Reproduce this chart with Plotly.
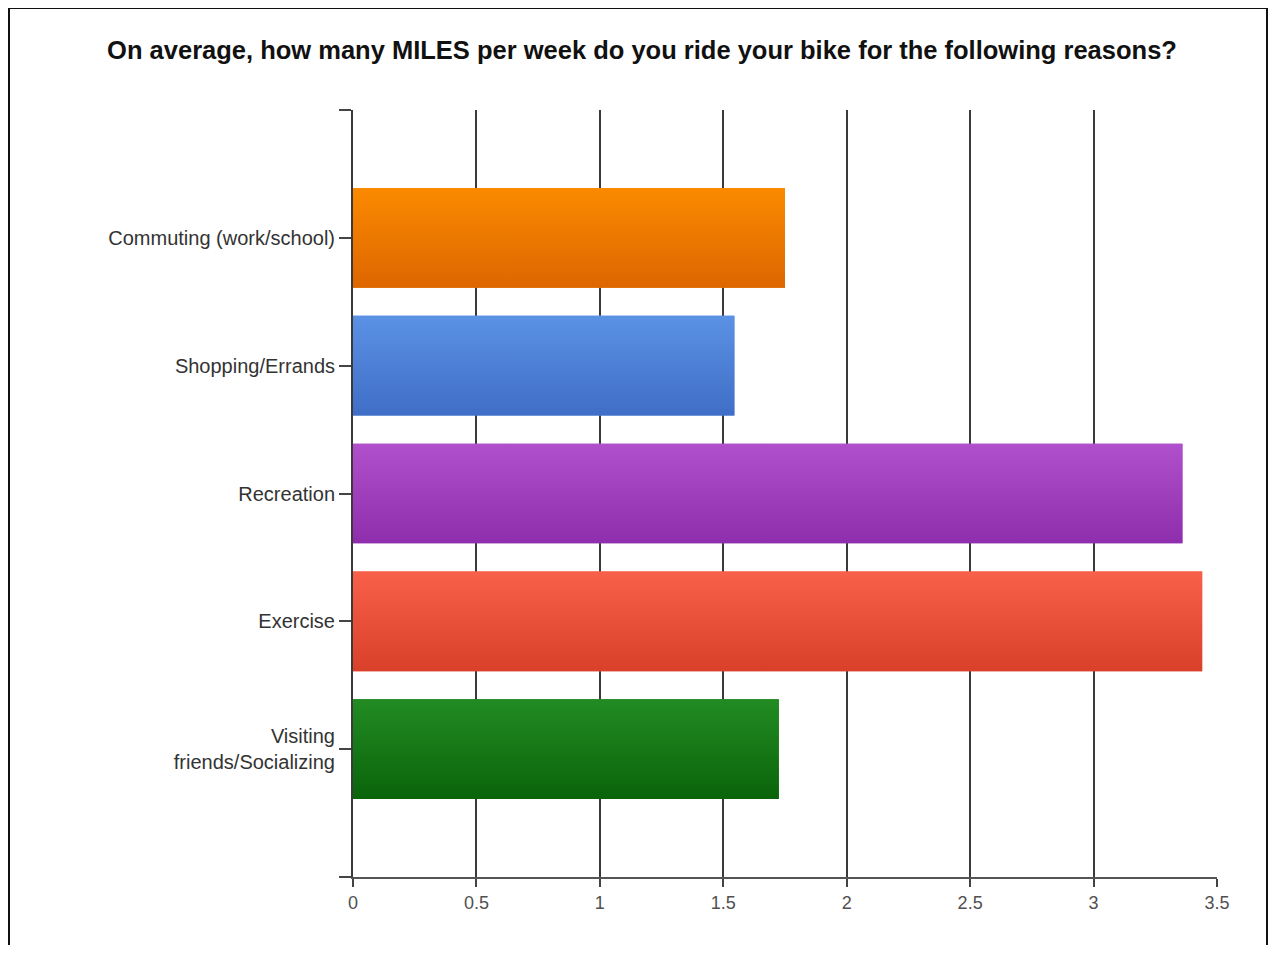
import plotly.graph_objects as go

categories = ["Commuting (work/school)", "Shopping/Errands", "Recreation", "Exercise",
              "Visiting<br>friends/Socializing"]
miles = [1.75, 1.545, 3.36, 3.44, 1.725]
colors = ["#ec7904", "#4d80d6", "#a040bd", "#e9503a", "#167716"]
colors_top = ["#fb8a00", "#5b92e5", "#b050cc", "#f9604a", "#228b22"]
colors_bottom = ["#dd6600", "#3f6ec6", "#8e2eac", "#d8402a", "#0a640a"]
x_ticks = [0, 0.5, 1, 1.5, 2, 2.5, 3, 3.5]
x_ticktext = ["0", "0.5", "1", "1.5", "2", "2.5", "3", "3.5"]
title = "On average, how many MILES per week do you ride your bike for the following reasons?"

# page has an 8px body margin; figure is sized to fit the 1276x953 window
W, H = 1260, 937
L, R, T, B = 345, 51, 102, 68
BAR_W = 0.78

ypos = list(range(len(categories)))

fig = go.Figure()
fig.add_trace(go.Bar(
    x=miles, y=ypos, orientation="h",
    marker=dict(color=colors, line=dict(width=0)),
    width=BAR_W, hoverinfo="x+text", text=categories, textposition="none",
))

# vertical gradient overlay on each bar (same data, same axes)
h = BAR_W / 2
for i, v in enumerate(miles):
    fig.add_trace(go.Scatter(
        x=[0, v, v, 0, 0], y=[i - h, i - h, i + h, i + h, i - h],
        mode="lines", line=dict(width=0), fill="toself",
        fillgradient=dict(type="vertical",
                          colorscale=[[0, colors_bottom[i]], [1, colors_top[i]]]),
        hoverinfo="skip",
    ))

tickvals_y = [-1] + ypos + [len(categories)]
ticktext_y = [""] + categories + [""]

fig.update_layout(
    width=W, height=H,
    margin=dict(l=L, r=R, t=T, b=B, autoexpand=False),
    paper_bgcolor="white", plot_bgcolor="white",
    showlegend=False,
    font=dict(family="Liberation Sans, Arial, sans-serif", color="#333333", size=18),
    title=dict(text="<b>" + title + "</b>", x=634 / W, xref="container", xanchor="center",
               y=1 - 42 / H, yref="container", yanchor="middle",
               font=dict(size=25.5, color="#111111", family="Liberation Sans, Arial, sans-serif")),
    xaxis=dict(range=[0, 3.5], tickvals=x_ticks, ticktext=x_ticktext,
               showgrid=True, gridcolor="#3a3a3a", gridwidth=2,
               zeroline=False, showline=True, linecolor="#555555", linewidth=2,
               ticks="outside", ticklen=8, tickwidth=2, tickcolor="#444444",
               tickfont=dict(size=18, color="#505050"), fixedrange=True),
    yaxis=dict(range=[len(categories), -1], tickvals=tickvals_y, ticktext=ticktext_y,
               showgrid=False, zeroline=False, showline=True, linecolor="#3a3a3a", linewidth=2,
               ticks="outside", ticklen=12, tickwidth=2, tickcolor="#444444",
               tickfont=dict(size=20, color="#333333"), fixedrange=True),
)

# outer frame
pw, ph = W - L - R, H - T - B
fig.add_shape(type="rect", xref="paper", yref="paper",
              x0=(1 - L) / pw, x1=(W - 1 - L) / pw,
              y0=(H - B - (H + 20)) / ph, y1=(H - B - 0) / ph,
              line=dict(color="#111111", width=2), fillcolor="rgba(0,0,0,0)", layer="above")

fig.write_html("out.html")
